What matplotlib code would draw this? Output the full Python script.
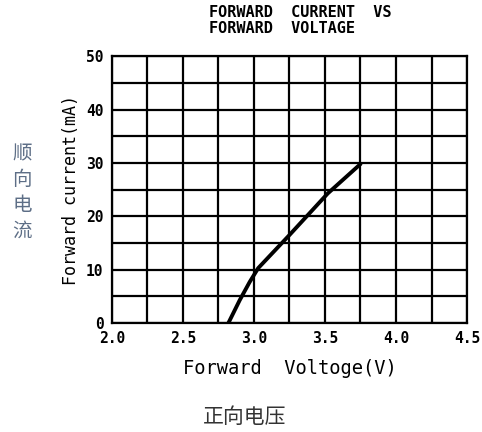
import matplotlib
matplotlib.use("Agg")
import matplotlib.pyplot as plt
import numpy as np

plt.rcParams['font.family'] = ['DejaVu Sans Mono', 'Noto Sans CJK SC']

# forward voltage (V) vs forward current (mA)
voltage = [2.82, 2.90, 2.97, 3.03, 3.25, 3.52, 3.75]
current = [0.0, 4.3, 7.7, 10.3, 16.5, 24.3, 29.8]

x_ticks = [2.0, 2.5, 3.0, 3.5, 4.0, 4.5]
x_labels = ['2.0', '2.5', '3.0', '3.5', '4.0', '4.5']
y_ticks = [0, 10, 20, 30, 40, 50]

fig = plt.figure(figsize=(4.82, 4.32), dpi=100)
ax = fig.add_axes([0.232, 0.252, 0.737, 0.618])

ax.plot(voltage, current, color='black', lw=2.8, solid_capstyle='round')

ax.set_xlim(2.0, 4.5)
ax.set_ylim(0, 50)
ax.set_xticks(np.arange(2.0, 4.51, 0.25), minor=True)
ax.set_yticks(np.arange(0, 51, 5), minor=True)
ax.set_xticks(x_ticks)
ax.set_xticklabels(x_labels)
ax.set_yticks(y_ticks)
ax.grid(True, which='both', color='black', lw=1.6)
ax.tick_params(which='both', length=0, labelsize=10.5, pad=6)
for lab in ax.get_xticklabels() + ax.get_yticklabels():
    lab.set_fontweight('bold')
for s in ax.spines.values():
    s.set_linewidth(1.6)

ax.set_xlabel('Forward  Voltoge(V)', fontsize=13.5, labelpad=9)
ax.set_ylabel('Forward current(mA)', fontsize=12, labelpad=4)
fig.text(0.622, 0.952, 'FORWARD  CURRENT  VS\nFORWARD  VOLTAGE', fontsize=11,
         fontweight='bold', ha='center', va='center', linespacing=1.05,
         multialignment='left')

fig.text(0.046, 0.555, '顺\n向\n电\n流', fontsize=14, color='#5d6e86',
         ha='center', va='center', linespacing=1.3,
         family=['Noto Sans CJK SC'])
fig.text(0.507, 0.035, '正向电压', fontsize=15, color='#333333',
         ha='center', va='center', family=['Noto Sans CJK SC'])

fig.savefig('out.png', dpi=100)
